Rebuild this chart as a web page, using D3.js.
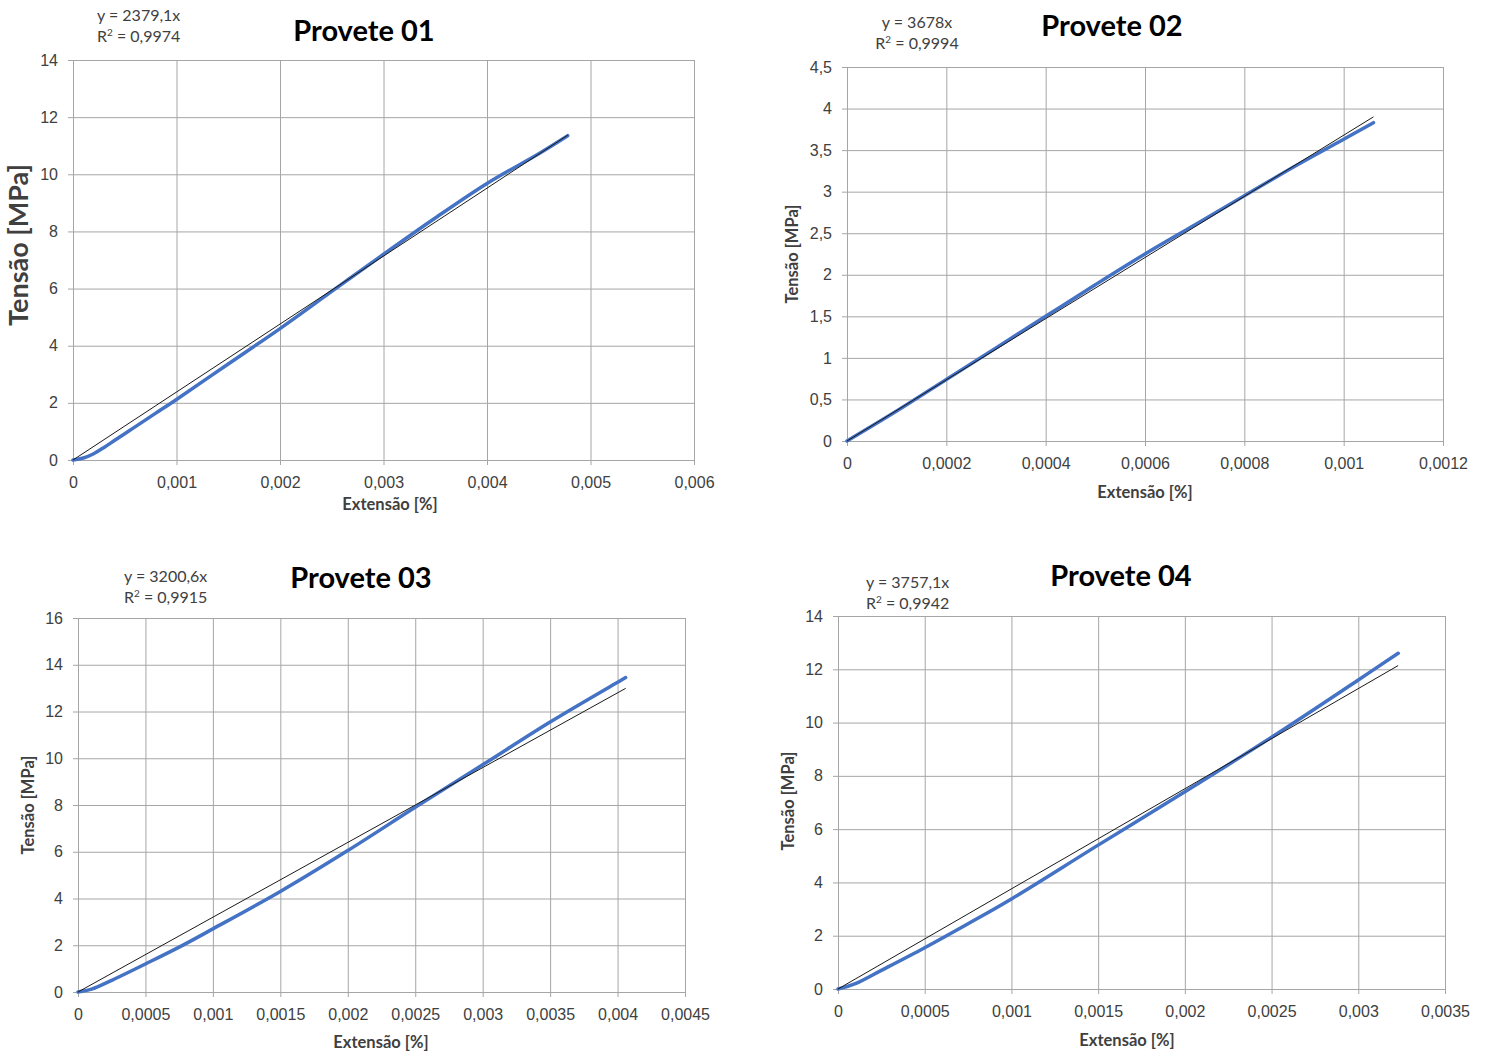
<!DOCTYPE html>
<html>
<head>
<meta charset="utf-8">
<script src="https://cdn.jsdelivr.net/npm/d3@7"></script>
<style>
  body { margin: 0; background: #fff; }
  svg { font-family: Lato, "Open Sans", sans-serif; }
  .tick text { font-size: 16px; fill: #404040; }
  .tick line { stroke: #a6a6a6; }
</style>
</head>
<body>
<div id="chart"></div>
<script>
// data -------------------------------------------------------------------
const titles = ["Provete 01", "Provete 02", "Provete 03", "Provete 04"];
const equations = ["y = 2379,1x", "y = 3678x", "y = 3200,6x", "y = 3757,1x"];
const r2Values = ["0,9974", "0,9994", "0,9915", "0,9942"];

const xTicks01 = [0, 0.001, 0.002, 0.003, 0.004, 0.005, 0.006];
const yTicks01 = [0, 2, 4, 6, 8, 10, 12, 14];
const xTicks02 = [0, 0.0002, 0.0004, 0.0006, 0.0008, 0.001, 0.0012];
const yTicks02 = [0, 0.5, 1, 1.5, 2, 2.5, 3, 3.5, 4, 4.5];
const xTicks03 = [0, 0.0005, 0.001, 0.0015, 0.002, 0.0025, 0.003, 0.0035, 0.004, 0.0045];
const yTicks03 = [0, 2, 4, 6, 8, 10, 12, 14, 16];
const xTicks04 = [0, 0.0005, 0.001, 0.0015, 0.002, 0.0025, 0.003, 0.0035];
const yTicks04 = [0, 2, 4, 6, 8, 10, 12, 14];

// [extensão, tensão]
const curve01 = [[0,0],[0.0001,0.07],[0.0002,0.22],[0.0003,0.44],[0.0004,0.68],[0.0005,0.92],[0.0006,1.16],[0.0008,1.64],[0.001,2.12],[0.0015,3.36],[0.002,4.6],[0.0025,5.9],[0.003,7.2],[0.0035,8.47],[0.004,9.68],[0.0045,10.72],[0.00478,11.35]];
const curve02 = [[0,0],[0.0001,0.36],[0.0002,0.74],[0.0003,1.12],[0.0004,1.5],[0.0005,1.88],[0.0006,2.25],[0.0007,2.6],[0.0008,2.95],[0.0009,3.3],[0.001,3.63],[0.00106,3.83]];
const curve03 = [[0,0],[0.0001,0.12],[0.00025,0.5],[0.0005,1.2],[0.00075,1.92],[0.001,2.7],[0.0015,4.3],[0.002,6.05],[0.0025,7.9],[0.003,9.72],[0.0035,11.55],[0.004,13.25],[0.00406,13.45]];
const curve04 = [[0,0],[0.0001,0.2],[0.00025,0.7],[0.0005,1.55],[0.00075,2.45],[0.001,3.38],[0.0015,5.4],[0.002,7.4],[0.0025,9.45],[0.003,11.6],[0.00323,12.6]];

// trend lines (linear, through origin)
const fit01 = [[0,0],[0.00478,11.37]];
const fit02 = [[0,0],[0.00106,3.9]];
const fit03 = [[0,0],[0.00406,12.99]];
const fit04 = [[0,0],[0.00323,12.14]];

// layout ----------------------------------------------------------------
const panels = [
  { curve: curve01, fit: fit01, xt: xTicks01, yt: yTicks01, left: 73, top: 60, w: 621, h: 400,
    titleX: 364, titleY: 41, eqX: 97, eqY: 21, eqAnchor: "start", xTitleX: 390, xTitleY: 510,
    yTitleX: 28, yTitleY: 245, yTitleSize: 27 },
  { curve: curve02, fit: fit02, xt: xTicks02, yt: yTicks02, left: 847, top: 67, w: 596, h: 374,
    titleX: 1112, titleY: 36, eqX: 917, eqY: 28, eqAnchor: "middle", xTitleX: 1145, xTitleY: 498,
    yTitleX: 798, yTitleY: 254, yTitleSize: 16.5 },
  { curve: curve03, fit: fit03, xt: xTicks03, yt: yTicks03, left: 78, top: 618, w: 607, h: 374,
    titleX: 361, titleY: 588, eqX: 124, eqY: 582, eqAnchor: "start", xTitleX: 381, xTitleY: 1048,
    yTitleX: 34, yTitleY: 805, yTitleSize: 16.5 },
  { curve: curve04, fit: fit04, xt: xTicks04, yt: yTicks04, left: 838, top: 616, w: 607, h: 373,
    titleX: 1121, titleY: 586, eqX: 866, eqY: 588, eqAnchor: "start", xTitleX: 1127, xTitleY: 1046,
    yTitleX: 794, yTitleY: 801, yTitleSize: 16.5 }
];

const W = 1489, H = 1055;
const fmt = v => String(+v.toPrecision(12)).replace(".", ",");

const svg = d3.select("#chart").append("svg")
  .attr("width", W)
  .attr("height", H);

panels.forEach((p, i) => {
  const x = d3.scaleLinear().domain(d3.extent(p.xt)).range([0, p.w]);
  const y = d3.scaleLinear().domain(d3.extent(p.yt)).range([p.h, 0]);
  const g = svg.append("g").attr("transform", `translate(${p.left},${p.top})`);

  // grid + tick labels, grid lines run 5px past the axes like in Excel
  g.append("g")
    .attr("transform", "translate(-5,0)")
    .call(d3.axisLeft(y).tickValues(p.yt).tickFormat(fmt).tickSize(-(p.w + 5)).tickPadding(10))
    .call(a => a.select(".domain").remove());
  g.append("g")
    .attr("transform", `translate(0,${p.h + 5})`)
    .call(d3.axisBottom(x).tickValues(p.xt).tickFormat(fmt).tickSize(-(p.h + 5)).tickPadding(12))
    .call(a => a.select(".domain").remove());

  const line = d3.line().x(d => x(d[0])).y(d => y(d[1])).curve(d3.curveCatmullRom.alpha(0.5));

  g.append("path")
    .datum(p.curve)
    .attr("fill", "none")
    .attr("stroke", "#4472c4")
    .attr("stroke-width", 3.5)
    .attr("stroke-linecap", "round")
    .attr("d", line);

  g.append("path")
    .datum(p.fit)
    .attr("fill", "none")
    .attr("stroke", "#1a1a1a")
    .attr("stroke-width", 1)
    .attr("d", d3.line().x(d => x(d[0])).y(d => y(d[1])));

  // texts
  svg.append("text")
    .attr("x", p.titleX).attr("y", p.titleY)
    .attr("text-anchor", "middle")
    .style("font-size", "29px").style("font-weight", "bold").style("fill", "#000")
    .text(titles[i]);

  const eq = svg.append("text")
    .attr("x", p.eqX).attr("y", p.eqY)
    .attr("text-anchor", p.eqAnchor)
    .style("font-size", "16px").style("fill", "#404040");
  eq.append("tspan").attr("x", p.eqX).text(equations[i]);
  const r2 = eq.append("tspan").attr("x", p.eqX).attr("dy", 21).text("R");
  r2.append("tspan").attr("dy", -6).style("font-size", "10px").text("2");
  r2.append("tspan").attr("dy", 6).text(" = " + r2Values[i]);

  svg.append("text")
    .attr("x", p.xTitleX).attr("y", p.xTitleY)
    .attr("text-anchor", "middle")
    .style("font-size", "16.5px").style("font-weight", "bold").style("fill", "#404040")
    .text("Extensão [%]");

  svg.append("text")
    .attr("transform", `translate(${p.yTitleX},${p.yTitleY}) rotate(-90)`)
    .attr("text-anchor", "middle")
    .style("font-size", p.yTitleSize + "px").style("font-weight", "bold").style("fill", "#404040")
    .text("Tensão [MPa]");
});
</script>
</body>
</html>
